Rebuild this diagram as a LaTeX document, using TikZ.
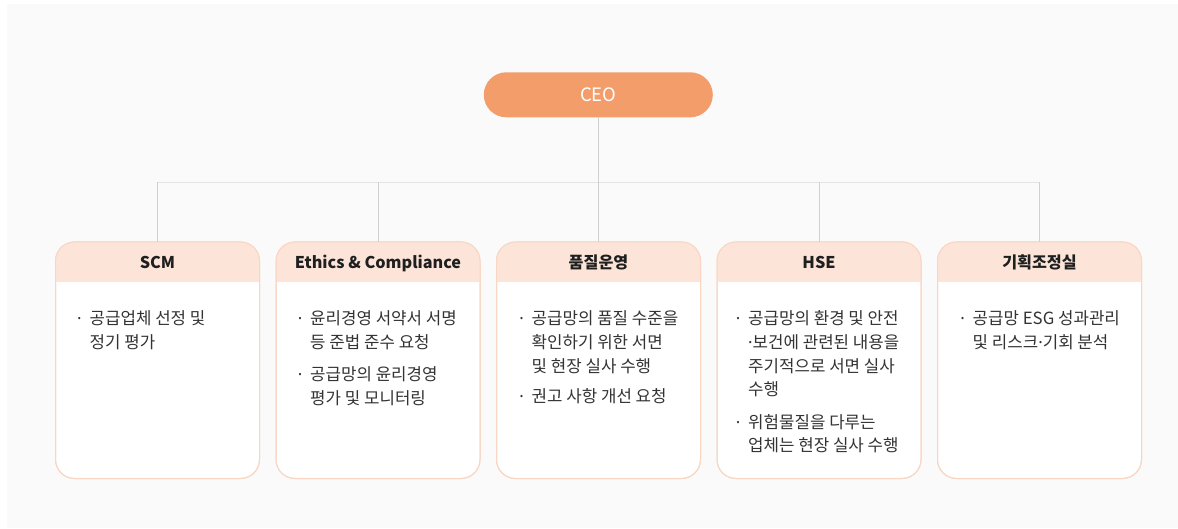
\documentclass[tikz,border=0pt]{standalone}
\usepackage{fontspec}
\setmainfont{Noto Sans CJK KR}
\newfontfamily\dotfont{Noto Sans}
\usepackage{xcolor}
\definecolor{ceoorange}{HTML}{F39D6B}
\definecolor{headpeach}{HTML}{FCE5D8}
\definecolor{edgepeach}{HTML}{F9D6C3}
\definecolor{panelgray}{HTML}{FAFAFA}
\definecolor{linkgray}{HTML}{D0D0D0}
\definecolor{busgray}{HTML}{E4E4E4}
\definecolor{bodytext}{HTML}{333333}
\newcommand{\mdot}{{\dotfont ·}}

\begin{document}
\begin{tikzpicture}[x=1pt,y=1pt,
    ceopill/.style={fill=ceoorange,rounded corners=22.5pt,minimum width=229pt,
        minimum height=45pt,text=white,font=\fontsize{18.5pt}{20pt}\selectfont},
    deptbox/.style={draw=edgepeach,line width=1pt,fill=white,rounded corners=19pt,
        minimum width=204pt,minimum height=236.5pt,inner sep=0pt,outer sep=0pt},
    depttitle/.style={anchor=base,inner sep=0pt,text=black!88,
        font=\fontsize{16.2pt}{20pt}\selectfont\bfseries},
    itemline/.style={anchor=base west,inner sep=0pt,text=bodytext,
        font=\fontsize{16.8pt}{24pt}\selectfont},
    itembullet/.style={anchor=base,inner sep=0pt,text=bodytext,
        font=\fontsize{16.8pt}{24pt}\selectfont},
    link/.style={draw=linkgray,line width=0.8pt},
    busline/.style={draw=busgray,line width=0.8pt}]

    \useasboundingbox (0,0) rectangle (1178,528);
    \fill[white] (0,0) rectangle (1178,528);
    \fill[panelgray] (7,0) rectangle (1178,524);

    \newcommand{\drawdept}[5]{%
        \node[deptbox] (#2) at ({55.5+#1*220.5+102},167.75) {};
        \begin{scope}
            \clip (#2.north west) rectangle ([yshift=-40pt]#2.north east);
            \fill[headpeach,rounded corners=19pt]
                (#2.south west) rectangle (#2.north east);
        \end{scope}
        \draw[edgepeach,line width=1pt,rounded corners=19pt]
            (#2.south west) rectangle (#2.north east);
        \node[depttitle] (#2-title) at ([yshift=-27pt]#2.north) {#3};
        \foreach [count=\i] \dy/\bul/\txt in {#5} {
            \node[itemline] (#2-line\i)
                at ([xshift=#4,yshift={-82.5-\dy}]#2.north west) {\txt};
            \ifnum\bul=1
                \node[itembullet] (#2-dot\i)
                    at ([xshift=-10pt]#2-line\i.base west) {\mdot};
            \fi
        }
    }

    \node[ceopill] (ceo) at (598.3,433.2) {CEO};

    \drawdept{0}{scm}{SCM}{34pt}{0/1/공급업체 선정 및,24/0/정기 평가}
    \drawdept{1}{ethics}{Ethics \& Compliance}{34pt}{%
        0/1/윤리경영 서약서 서명,24/0/등 준법 준수 요청,
        56/1/공급망의 윤리경영,80/0/평가 및 모니터링}
    \drawdept{2}{quality}{품질운영}{35pt}{%
        0/1/공급망의 품질 수준을,24/0/확인하기 위한 서면,
        48/0/및 현장 실사 수행,78/1/권고 사항 개선 요청}
    \drawdept{3}{hse}{HSE}{31pt}{%
        0/1/공급망의 환경 및 안전,24/0/\mdot 보건에 관련된 내용을,
        48/0/주기적으로 서면 실사,71/0/수행,
        104/1/위험물질을 다루는,127/0/업체는 현장 실사 수행}
    \drawdept{4}{planning}{기획조정실}{35pt}{%
        0/1/공급망 ESG 성과관리,24/0/및 리스크\mdot 기회 분석}

    \coordinate (bus) at (598.3,345.7);
    \draw[link] (ceo.south) -- (ceo.south |- bus);
    \draw[busline] (scm.north |- bus) -- (planning.north |- bus);
    \foreach \dept in {scm,ethics,quality,hse,planning} {
        \draw[link] (\dept.north |- bus) -- (\dept.north);
    }
\end{tikzpicture}
\end{document}
